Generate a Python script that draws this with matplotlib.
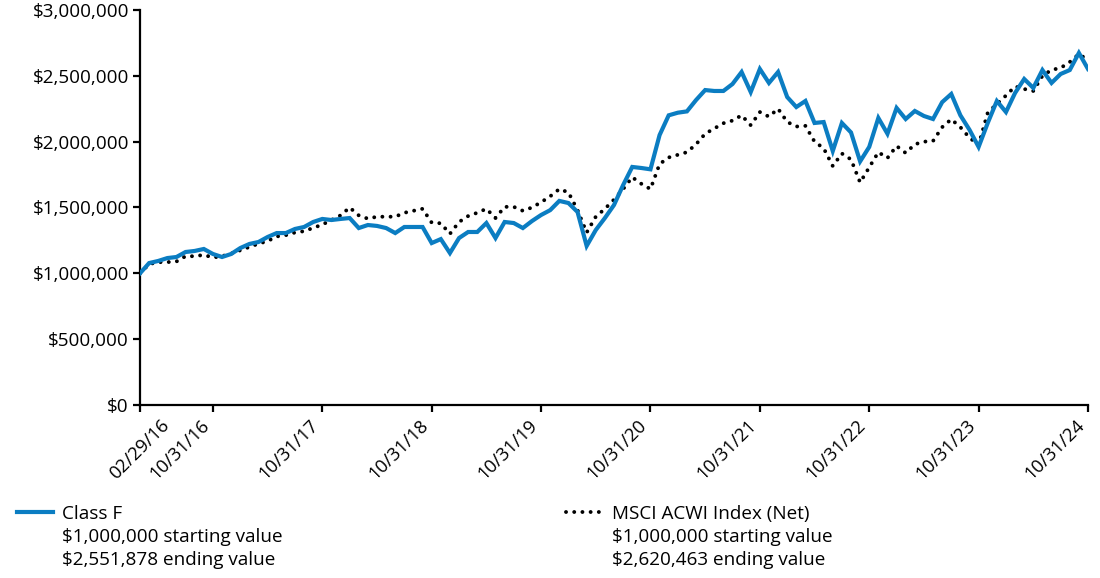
import matplotlib
matplotlib.use('Agg')
import matplotlib.pyplot as plt
from matplotlib.lines import Line2D
from matplotlib.ticker import FuncFormatter

plt.rcParams['font.family'] = ['Open Sans', 'DejaVu Sans']

# monthly values, 02/29/16 .. 10/31/24
class_f = [
    1000000, 1078000, 1094000, 1116000, 1124000, 1162000, 1170000, 1185000, 1147000, 1124000,
    1147000, 1192000, 1223000, 1238000, 1276000, 1306000, 1306000, 1337000, 1352000, 1390000,
    1413000, 1405000, 1413000, 1420000, 1344000, 1367000, 1360000, 1344000, 1306000, 1352000,
    1352000, 1352000, 1230000, 1260000, 1154000, 1268000, 1314000, 1314000, 1382000, 1268000,
    1390000, 1382000, 1344000, 1397000, 1443000, 1480000, 1550000, 1534000, 1466000, 1208000,
    1329000, 1420000, 1519000, 1670000, 1808000, 1800000, 1790000, 2050000, 2200000, 2220000,
    2230000, 2316000, 2392000, 2385000, 2385000, 2438000, 2529000, 2377000, 2552000, 2446000,
    2529000, 2339000, 2263000, 2309000, 2142000, 2149000, 1929000, 2142000, 2070000, 1850000,
    1960000, 2180000, 2060000, 2256000, 2172000, 2233000, 2195000, 2172000, 2300000, 2362000,
    2200000, 2090000, 1960000, 2142000, 2309000, 2225000, 2370000, 2476000, 2408000, 2544000,
    2446000, 2514000, 2544000, 2674000, 2551878,
]
msci = [
    1000000, 1070000, 1085000, 1085000, 1090000, 1130000, 1130000, 1140000, 1120000, 1130000,
    1150000, 1175000, 1200000, 1225000, 1245000, 1280000, 1290000, 1310000, 1320000, 1345000,
    1370000, 1405000, 1440000, 1500000, 1440000, 1415000, 1430000, 1430000, 1430000, 1460000,
    1475000, 1490000, 1385000, 1380000, 1300000, 1390000, 1435000, 1460000, 1490000, 1420000,
    1505000, 1505000, 1475000, 1500000, 1540000, 1585000, 1640000, 1615000, 1480000, 1310000,
    1430000, 1490000, 1560000, 1640000, 1730000, 1680000, 1640000, 1830000, 1880000, 1900000,
    1920000, 1980000, 2060000, 2100000, 2140000, 2160000, 2200000, 2125000, 2225000, 2190000,
    2250000, 2150000, 2115000, 2120000, 2000000, 1950000, 1815000, 1910000, 1865000, 1690000,
    1805000, 1920000, 1876000, 1967000, 1914000, 1980000, 2000000, 2005000, 2110000, 2170000,
    2110000, 2030000, 1975000, 2220000, 2286000, 2350000, 2420000, 2400000, 2385000, 2500000,
    2545000, 2560000, 2605000, 2665000, 2620463,
]
tick_pos = [0, 8, 20, 32, 44, 56, 68, 80, 92, 104]
tick_labels = ['02/29/16', '10/31/16', '10/31/17', '10/31/18', '10/31/19',
               '10/31/20', '10/31/21', '10/31/22', '10/31/23', '10/31/24']

BLUE = '#0B7DC2'
W, H = 1100, 578


def fx(px):
    return px / W


def fy(py):
    return 1 - py / H


fig = plt.figure(figsize=(11, 5.78), dpi=100)
ax = fig.add_axes([fx(140), fy(405), fx(1088) - fx(140), fy(10) - fy(405)])

months = list(range(len(class_f)))
ax.plot(months, msci, color='black', lw=2.8, linestyle=(0, (0.01, 2.1)),
        dash_capstyle='round', zorder=2)
ax.plot(months, class_f, color=BLUE, lw=3.0, solid_joinstyle='miter', zorder=3)

ax.set_xlim(0, 104)
ax.set_ylim(0, 3000000)
ax.set_yticks(range(0, 3000001, 500000))
ax.yaxis.set_major_formatter(FuncFormatter(lambda v, p: '${:,.0f}'.format(v)))
ax.set_xticks(tick_pos)
ax.set_xticklabels(tick_labels, rotation=45, ha='right')
ax.get_xticklabels()[0].set_ha('center')

for s in ['top', 'right']:
    ax.spines[s].set_visible(False)
for s in ['left', 'bottom']:
    ax.spines[s].set_linewidth(1.6)
ax.tick_params(axis='both', length=5, width=1.6, colors='black')
ax.tick_params(axis='y', pad=3, labelsize=13.6)
ax.tick_params(axis='x', pad=3, labelsize=13.2)

# legend
fig.add_artist(Line2D([fx(17), fx(53)], [fy(512), fy(512)], color=BLUE, lw=3.0,
                      transform=fig.transFigure))
fig.add_artist(Line2D([fx(566), fx(602)], [fy(512), fy(512)], color='black', lw=2.8,
                      linestyle=(0, (0.01, 2.1)), dash_capstyle='round',
                      transform=fig.transFigure))
left_txt = ['Class F', '$1,000,000 starting value', '$2,551,878 ending value']
right_txt = ['MSCI ACWI Index (Net)', '$1,000,000 starting value', '$2,620,463 ending value']
for k, base in enumerate([519, 542, 565]):
    fig.text(fx(62), fy(base), left_txt[k], fontsize=13.6, va='baseline', ha='left')
    fig.text(fx(612), fy(base), right_txt[k], fontsize=13.6, va='baseline', ha='left')

fig.savefig('out.png', dpi=100)
